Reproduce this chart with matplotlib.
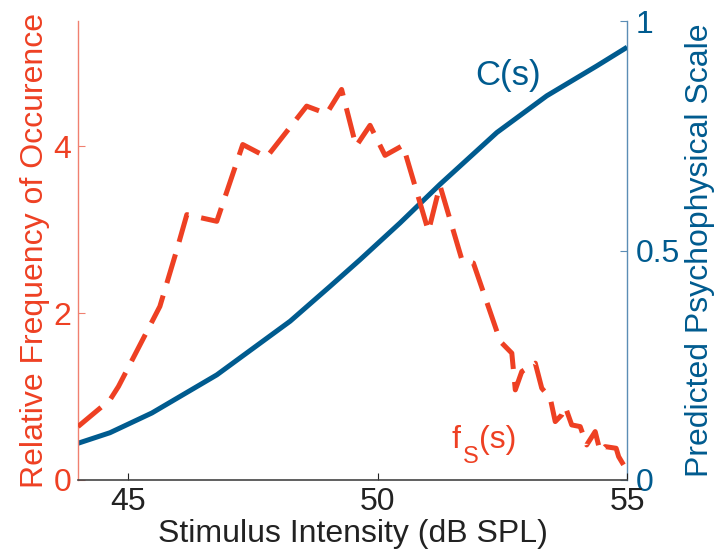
import matplotlib
matplotlib.use("Agg")
import matplotlib.pyplot as plt

plt.rcParams['font.family'] = ['Liberation Sans', 'DejaVu Sans']

RED = '#EE4023'
BLUE = '#005B8F'

# f_S(s): relative frequency of occurrence
fs_x = [44.0, 44.64, 44.81, 45.64, 45.98, 46.18, 46.78, 47.30, 47.78, 48.58, 48.98,
        49.28, 49.57, 49.85, 50.15, 50.51, 51.02, 51.25, 51.69, 51.92, 52.46, 52.69,
        52.76, 52.89, 53.16, 53.29, 53.46, 53.56, 53.69, 53.76, 53.89, 54.06, 54.19,
        54.36, 54.46, 54.56, 54.78, 54.83, 54.93, 55.0]
fs_y = [0.64, 0.96, 1.12, 2.08, 2.76, 3.18, 3.10, 4.02, 3.87, 4.48, 4.39,
        4.68, 4.00, 4.25, 3.89, 4.01, 2.98, 3.53, 2.64, 2.60, 1.66, 1.52,
        1.08, 1.30, 1.40, 1.10, 0.98, 0.70, 0.78, 0.88, 0.66, 0.64, 0.42,
        0.58, 0.34, 0.40, 0.38, 0.28, 0.18, 0.12]

# C(s): predicted psychophysical scale
c_x = [44.0, 44.64, 45.48, 46.78, 48.25, 49.05, 49.65, 50.45, 51.25, 52.39, 53.39, 54.39, 55.0]
c_y = [0.080, 0.103, 0.146, 0.229, 0.346, 0.422, 0.480, 0.560, 0.644, 0.757, 0.837, 0.902, 0.943]

x_ticks = [45, 50, 55]
left_ticks = [0, 2, 4]
right_ticks = [0, 0.5, 1]
right_ticklabels = ['0', '0.5', '1']

fig = plt.figure(figsize=(7.25, 5.56), dpi=100)
ax = fig.add_axes([0.1076, 0.1367, 0.865 - 0.1076, 0.9622 - 0.1367])
ax2 = ax.twinx()

ax.set_zorder(2)
ax.patch.set_visible(False)

ax2.plot(c_x, c_y, color=BLUE, lw=3.6, solid_capstyle='butt', zorder=3)
ax.plot(fs_x, fs_y, color=RED, lw=3.6, dashes=(6, 2.6), dash_capstyle='butt', zorder=4)

ax.set_xlim(44, 55)
ax.set_ylim(0, 5.5)
ax2.set_ylim(0, 1)

fs = 23
ax.set_xticks(x_ticks)
ax.set_xticklabels([str(t) for t in x_ticks], fontsize=fs, color='#222222')
ax.set_yticks(left_ticks)
ax.set_yticklabels([str(t) for t in left_ticks], fontsize=fs, color=RED)
ax2.set_yticks(right_ticks)
ax2.set_yticklabels(right_ticklabels, fontsize=fs, color=BLUE)

ax.tick_params(axis='x', direction='in', length=5, width=0.8, color='#222222', pad=5)
ax.tick_params(axis='y', direction='in', length=5, width=0.8, color='#F08070', pad=5)
ax2.tick_params(axis='y', direction='in', length=5, width=0.8, color='#5B8DB5', pad=6)

for a in (ax, ax2):
    a.spines['top'].set_visible(False)
ax.spines['left'].set_color('#F08070')
ax.spines['left'].set_linewidth(1.0)
ax.spines['right'].set_visible(False)
ax2.spines['left'].set_visible(False)
ax2.spines['bottom'].set_visible(False)
ax2.spines['right'].set_color('#5B8DB5')
ax2.spines['right'].set_linewidth(1.0)
ax.spines['bottom'].set_color('#444444')
ax.spines['bottom'].set_linewidth(1.2)

ax.set_xlabel('Stimulus Intensity (dB SPL)', fontsize=fs, color='#222222')
ax.xaxis.set_label_coords(0.5, -0.085)
ax.set_ylabel('Relative Frequency of Occurence', fontsize=fs, color=RED, labelpad=2)
ax2.set_ylabel('Predicted Psychophysical Scale', fontsize=fs, color=BLUE, labelpad=4)

ax.text(51.96, 4.735, 'C(s)', fontsize=25, color=BLUE, ha='left', va='baseline')

# f_S(s) label built from pieces (large, low subscript like the reference)
ax.text(51.49, 0.385, 'f', fontsize=fs, color=RED, ha='left', va='baseline')
ax.text(51.71, 0.204, 'S', fontsize=17, color=RED, ha='left', va='baseline')
ax.text(52.04, 0.385, '(s)', fontsize=fs, color=RED, ha='left', va='baseline')

fig.savefig('out.png', dpi=100)
